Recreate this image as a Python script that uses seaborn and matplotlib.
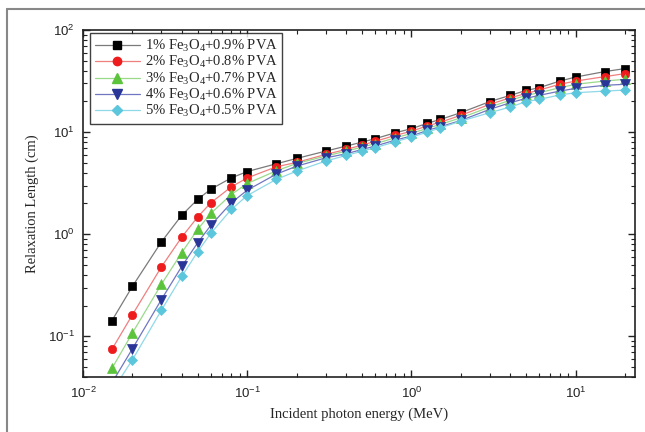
import numpy as np
import pandas as pd
import matplotlib
matplotlib.use("Agg")
import matplotlib.pyplot as plt
import matplotlib.ticker as mticker
from matplotlib.lines import Line2D
import seaborn as sns

# Photon energies (MeV)
energy = [0.015, 0.02, 0.03, 0.04, 0.05, 0.06, 0.08, 0.1, 0.15, 0.2, 0.3, 0.4,
          0.5, 0.6, 0.8, 1.0, 1.25, 1.5, 2.0, 3.0, 4.0, 5.0, 6.0, 8.0, 10.0,
          15.0, 20.0]

# Relaxation length (cm) for each composition
rl_1 = [0.1425, 0.309, 0.84, 1.54, 2.20, 2.76, 3.56, 4.11, 4.89, 5.52, 6.51,
        7.29, 7.98, 8.61, 9.87, 10.8, 12.2, 13.3, 15.5, 19.9, 22.9, 25.6,
        27.2, 31.6, 34.6, 39.1, 41.9]
rl_2 = [0.0746, 0.163, 0.478, 0.94, 1.48, 2.03, 2.91, 3.56, 4.57, 5.05, 6.04,
        6.76, 7.46, 8.11, 9.29, 10.2, 11.5, 12.5, 14.6, 18.7, 21.7, 23.9,
        25.8, 29.4, 31.6, 34.9, 37.4]
rl_3 = [0.0485, 0.108, 0.323, 0.662, 1.12, 1.60, 2.45, 3.14, 4.17, 4.93, 5.82,
        6.51, 7.13, 7.69, 8.81, 9.71, 10.9, 11.9, 13.8, 17.6, 20.5, 22.9,
        24.3, 27.2, 29.4, 31.6, 32.9]
rl_4 = [0.035, 0.0758, 0.229, 0.486, 0.829, 1.22, 2.03, 2.70, 3.87, 4.64,
        5.59, 6.13, 6.76, 7.29, 8.36, 9.15, 10.4, 11.3, 13.0, 16.7, 19.4,
        21.4, 22.9, 25.2, 26.8, 28.7, 29.4]
rl_5 = [0.029, 0.059, 0.18, 0.388, 0.676, 1.02, 1.75, 2.39, 3.44, 4.15, 5.2,
        5.91, 6.51, 7.03, 8.05, 8.93, 10.0, 11.0, 12.8, 15.5, 17.6, 19.9,
        20.9, 23.1, 24.3, 25.2, 25.8]

labels = [
    r"1% Fe$_3$O$_4$+0.9% PVA",
    r"2% Fe$_3$O$_4$+0.8% PVA",
    r"3% Fe$_3$O$_4$+0.7% PVA",
    r"4% Fe$_3$O$_4$+0.6% PVA",
    r"5% Fe$_3$O$_4$+0.5% PVA",
]
series = [rl_1, rl_2, rl_3, rl_4, rl_5]

df = pd.concat(
    [pd.DataFrame({"energy": energy, "rl": vals, "sample": lab})
     for lab, vals in zip(labels, series)],
    ignore_index=True,
)

sns.set_style("ticks")
plt.rcParams["font.family"] = ["Liberation Serif", "DejaVu Serif"]
plt.rcParams["mathtext.fontset"] = "custom"
plt.rcParams["mathtext.rm"] = "Liberation Serif"
plt.rcParams["mathtext.it"] = "Liberation Serif:italic"
plt.rcParams["mathtext.bf"] = "Liberation Serif:bold"
plt.rcParams["mathtext.sf"] = "Liberation Sans"

marker_colors = ["#000000", "#ee1c1c", "#5cc43c", "#2a3598", "#5bc6dc"]
line_colors = ["#7a7a7a", "#f07f7f", "#9ad98a", "#7077c0", "#8fd8e8"]
markers = ["s", "o", "^", "v", "D"]
msizes = [5.5, 6.0, 6.8, 6.8, 5.5]

fig = plt.figure(figsize=(6.45, 4.32), dpi=100)
ax = fig.add_axes([0.1287, 0.1273, 0.8558, 0.8033])

for lab, mc, lc, mk, ms in zip(labels, marker_colors, line_colors, markers, msizes):
    sub = df[df["sample"] == lab]
    sns.lineplot(data=sub, x="energy", y="rl", ax=ax, color=lc, lw=0.9,
                 marker=mk, markersize=ms, markerfacecolor=mc,
                 markeredgecolor=mc, markeredgewidth=0.5, label=lab,
                 legend=False, sort=False, errorbar=None)

ax.set_xscale("log")
ax.set_yscale("log")
ax.set_xlim(0.01, 23)
ax.set_ylim(0.04, 100)

fmt = mticker.FuncFormatter(lambda v, p: r"$\mathsf{10^{%d}}$" % round(np.log10(v)))
ax.xaxis.set_major_locator(mticker.LogLocator(base=10, numticks=10))
ax.yaxis.set_major_locator(mticker.LogLocator(base=10, numticks=10))
ax.xaxis.set_minor_locator(mticker.LogLocator(base=10, subs=np.arange(2, 10), numticks=20))
ax.yaxis.set_minor_locator(mticker.LogLocator(base=10, subs=np.arange(2, 10), numticks=20))
ax.xaxis.set_major_formatter(fmt)
ax.yaxis.set_major_formatter(fmt)
ax.xaxis.set_minor_formatter(mticker.NullFormatter())
ax.yaxis.set_minor_formatter(mticker.NullFormatter())

ax.tick_params(which="both", direction="in", top=True, right=True,
               colors="#222222", labelsize=9.5)
ax.tick_params(which="major", length=5, width=1.0, pad=6)
ax.tick_params(which="minor", length=3, width=0.8)
for sp in ax.spines.values():
    sp.set_linewidth(1.2)
    sp.set_color("#222222")

ax.set_xlabel("Incident photon energy (MeV)", fontsize=10.5, labelpad=5)
ax.set_ylabel("Relaxation Length (cm)", fontsize=10.5, labelpad=6)

handles = [Line2D([], [], color=lc, lw=0.9, marker=mk, markersize=ms,
                  markerfacecolor=mc, markeredgecolor=mc)
           for mc, lc, mk, ms in zip(marker_colors, line_colors, markers, msizes)]
leg = ax.legend(handles, labels, loc="upper left", bbox_to_anchor=(0.013, 0.99),
                fontsize=10.5, frameon=True, fancybox=False, edgecolor="#111111",
                handlelength=3.1, handletextpad=0.35, labelspacing=0.02,
                borderpad=0.3, borderaxespad=0.0)
leg.get_frame().set_linewidth(1.0)

# outer page frame (left and top edges)
fig.add_artist(Line2D([7 / 645, 7 / 645], [0, 1 - 9 / 432], color="#888888",
                      lw=1.5, transform=fig.transFigure))
fig.add_artist(Line2D([7 / 645, 1], [1 - 9 / 432, 1 - 9 / 432], color="#888888",
                      lw=1.5, transform=fig.transFigure))

fig.savefig("out.png", dpi=100)
